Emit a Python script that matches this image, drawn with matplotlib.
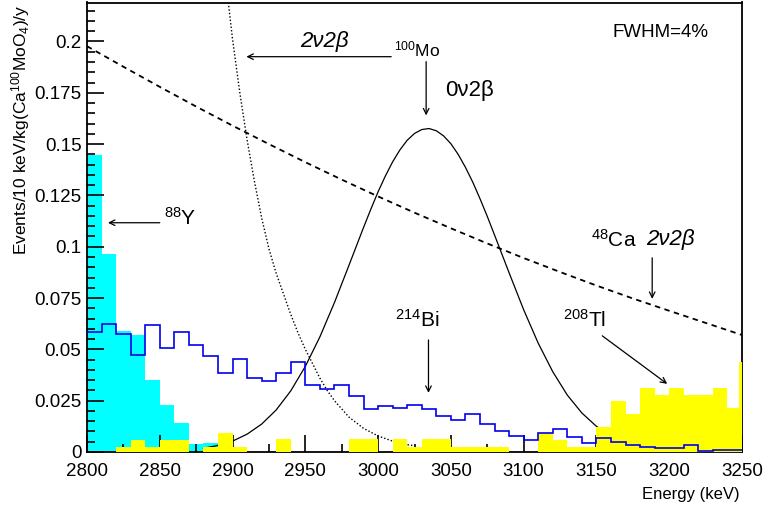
import numpy as np
import matplotlib
matplotlib.use("Agg")
import matplotlib.pyplot as plt

plt.rcParams['font.family'] = ['Liberation Sans', 'DejaVu Sans']
plt.rcParams['mathtext.fontset'] = 'custom'
plt.rcParams['mathtext.rm'] = 'Liberation Sans'
plt.rcParams['mathtext.it'] = 'Liberation Sans:italic'

# histogram bins, 10 keV wide
edges = np.arange(2800, 3251, 10)

cyan_vals = [0.1445, 0.0967, 0.0590, 0.0570, 0.0353, 0.0231, 0.0142, 0.0040, 0.0045] + [0] * 36

blue_vals = [0.0584, 0.0625, 0.0576, 0.0474, 0.0620, 0.0506, 0.0584, 0.0522, 0.0467, 0.0386,
             0.0455, 0.0362, 0.0345, 0.0384, 0.0440, 0.0325, 0.0308, 0.0328, 0.0273, 0.0210,
             0.0224, 0.0214, 0.0227, 0.0209, 0.0175, 0.0157, 0.0185, 0.0136, 0.0100, 0.0080,
             0.0058, 0.0095, 0.0110, 0.0075, 0.0046, 0.0068, 0.0050, 0.0034, 0.0026, 0.0018,
             0.0018, 0.0034, 0.0003, 0.0008, 0.0008]

yellow_vals = [0, 0, 0.0026, 0.0060, 0.0026, 0.0060, 0.0060, 0, 0.0026, 0.0094,
               0.0026, 0, 0, 0.0062, 0, 0, 0, 0, 0.0062, 0.0062,
               0, 0.0062, 0.0026, 0.0062, 0.0062, 0.0026, 0.0026, 0.0026, 0.0026, 0,
               0, 0.0092, 0.0060, 0.0026, 0.0026, 0.0122, 0.0250, 0.0185, 0.0312, 0.0280,
               0.0312, 0.0280, 0.0280, 0.0312, 0.0214]
# thin last slice at the right edge
yellow_tail_edges = [3248, 3250]
yellow_tail_val = [0.0437]

# 0v2b peak of 100Mo (FWHM = 4%)
gaus_e = [2880, 2890, 2900, 2910, 2920, 2930, 2940, 2950, 2960, 2970, 2980, 2985, 2990, 2995,
          3000, 3005, 3010, 3015, 3020, 3025, 3030, 3035, 3040, 3045, 3050, 3055, 3060, 3065,
          3070, 3075, 3080, 3085, 3090, 3100, 3110, 3120, 3130, 3140, 3150, 3160, 3170]
gaus_v = [0.0018, 0.0032, 0.0053, 0.0087, 0.0136, 0.0205, 0.0298, 0.0417, 0.0561, 0.0728,
          0.0910, 0.1002, 0.1094, 0.1183, 0.1268, 0.1345, 0.1414, 0.1472, 0.1519, 0.1552,
          0.1571, 0.1576, 0.1565, 0.1540, 0.1502, 0.1450, 0.1387, 0.1315, 0.1234, 0.1148,
          0.1057, 0.0965, 0.0873, 0.0693, 0.0530, 0.0391, 0.0277, 0.0190, 0.0125, 0.0079, 0.0048]

# 2v2b of 100Mo (dotted)
mo2v_e = [2895, 2900, 2905, 2910, 2915, 2920, 2925, 2930, 2935, 2940, 2945, 2950, 2955,
          2960, 2965, 2970, 2980, 2990, 3000, 3010, 3020, 3025]
mo2v_v = [0.232, 0.201, 0.175, 0.152, 0.132, 0.114, 0.099, 0.087, 0.077, 0.067, 0.058, 0.050,
          0.043, 0.036, 0.030, 0.025, 0.017, 0.0115, 0.0078, 0.0053, 0.0036, 0.0030]

# 2v2b of 48Ca (dashed)
ca_e = [2800, 2825, 2850, 2875, 2900, 2925, 2950, 2975, 3000, 3025, 3050, 3075, 3100,
        3125, 3150, 3175, 3200, 3225, 3250]
ca_v = [0.1977, 0.1877, 0.1779, 0.1683, 0.1590, 0.1500, 0.1412, 0.1327, 0.1245, 0.1166,
        0.1090, 0.1016, 0.0945, 0.0877, 0.0811, 0.0748, 0.0688, 0.0629, 0.0570]

fig = plt.figure(figsize=(7.64, 5.08), dpi=100)
ax = fig.add_axes([87 / 764, 1 - 452 / 508, (742 - 87) / 764, (452 - 2.5) / 508])

ax.stairs(cyan_vals, edges, fill=True, color='#00ffff', lw=0, zorder=1)
ax.plot(gaus_e, gaus_v, color='black', lw=0.9, zorder=2)
ax.plot(mo2v_e, mo2v_v, color='black', lw=1.0, ls=(0, (1, 1.5)), zorder=2)
ax.stairs(yellow_vals, edges, fill=True, color='#ffff00', lw=0, zorder=3)
ax.stairs(yellow_tail_val, yellow_tail_edges, fill=True, color='#ffff00', lw=0, zorder=3)
ax.stairs(blue_vals, edges, baseline=None, color='#0000ee', lw=1.2, zorder=4)
ax.plot(ca_e, ca_v, color='black', lw=1.3, ls=(0, (3, 2.5)), zorder=5)

ax.set_xlim(2800, 3250)
ax.set_ylim(0, 0.219)

ax.set_xticks(np.arange(2800, 3251, 50))
ax.set_xticks(np.arange(2800, 3251, 25), minor=True)
yt = [0, 0.025, 0.05, 0.075, 0.1, 0.125, 0.15, 0.175, 0.2]
ax.set_yticks(yt)
ax.set_yticklabels(['%g' % v for v in yt])
ax.set_yticks(np.arange(0, 0.2185, 0.005), minor=True)
ax.tick_params(which='both', direction='in', top=False, right=False, labelsize=13.5, width=1.2)
ax.tick_params(which='major', length=12)
ax.tick_params(which='minor', length=6)
ax.tick_params(axis='x', pad=8)
ax.tick_params(axis='y', pad=4)
for s in ax.spines.values():
    s.set_linewidth(1.3)

fig.text(21 / 764, 1 - 5 / 508, 'Events/10 keV/kg(Ca$^{100}$MoO$_4$)/y', rotation=90,
         ha='center', va='top', fontsize=12.5)
fig.text(740 / 764, 1 - 495 / 508, 'Energy (keV)', ha='right', va='center', fontsize=12)

arr = dict(arrowstyle='->', color='black', lw=0.9, shrinkA=0, shrinkB=0)
ax.annotate('', xy=(2909.5, 0.1926), xytext=(3009, 0.1926), arrowprops=arr)
ax.text(2963, 0.2, '2ν2β', ha='center', va='center', fontsize=16, style='italic')
ax.text(3027, 0.196, '$^{100}$Mo', ha='center', va='center', fontsize=12.5)
ax.annotate('', xy=(3033, 0.164), xytext=(3033, 0.1902), arrowprops=arr)
ax.text(3063, 0.176, '0ν2β', ha='center', va='center', fontsize=16)
ax.text(3194, 0.2044, 'FWHM=4%', ha='center', va='center', fontsize=13.5)

ax.text(2864, 0.114, '$^{88}$Y', ha='center', va='center', fontsize=15)
ax.annotate('', xy=(2814.4, 0.1117), xytext=(2850, 0.1117), arrowprops=arr)

ax.text(3027, 0.0644, '$^{214}$Bi', ha='center', va='center', fontsize=15)
ax.annotate('', xy=(3034.6, 0.0288), xytext=(3034.6, 0.0546), arrowprops=arr)

ax.text(3141.6, 0.0644, '$^{208}$Tl', ha='center', va='center', fontsize=15)
ax.annotate('', xy=(3198.6, 0.0332), xytext=(3154, 0.0566), arrowprops=arr)

ax.text(3162, 0.1034, '$^{48}$Ca', ha='center', va='center', fontsize=15)
ax.text(3201, 0.1034, '2ν2β', ha='center', va='center', fontsize=16, style='italic')
ax.annotate('', xy=(3188.3, 0.0746), xytext=(3188.3, 0.0946), arrowprops=arr)

fig.savefig('out.png', dpi=100)
